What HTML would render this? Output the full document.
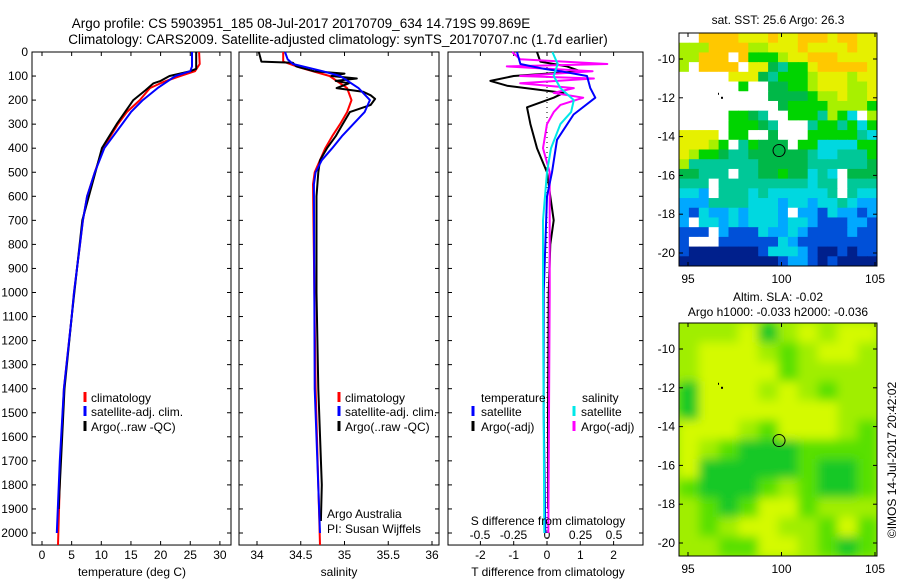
<!DOCTYPE html>
<html><head><meta charset="utf-8"><style>
html,body{margin:0;padding:0;background:#fff;}
svg{display:block;font-family:"Liberation Sans",sans-serif;}
</style></head><body>
<svg id="fig" width="900" height="580" viewBox="0 0 900 580" xmlns="http://www.w3.org/2000/svg">
<text x="301" y="28" font-size="13.5" text-anchor="middle">Argo profile: CS 5903951_185 08-Jul-2017 20170709_634 14.719S 99.869E</text>
<text x="338" y="44" font-size="13.5" text-anchor="middle">Climatology: CARS2009. Satellite-adjusted climatology: synTS_20170707.nc (1.7d earlier)</text>
<g id="plots"></g>
<text x="778" y="24" font-size="12" text-anchor="middle">sat. SST: 25.6 Argo: 26.3</text>
<text x="778" y="301" font-size="12" text-anchor="middle">Altim. SLA: -0.02</text>
<text x="778" y="316" font-size="12" text-anchor="middle">Argo h1000: -0.033 h2000: -0.036</text>
<text transform="translate(896,460) rotate(-90)" font-size="12" text-anchor="middle">©IMOS 14-Jul-2017 20:42:02</text>
</svg>
<script>
// ---------- data ----------
const tClimDepth=[0,50,80,100,125,150,200,250,300,400,500,600,700,800,900,1000,1100,1400,1700,2050];
const tClimVal=[26.5,26.6,25.8,23.3,20.4,18.2,16.5,14.3,12.8,10.3,8.9,7.6,6.9,6.4,5.9,5.4,5.0,3.7,3.1,2.7];
const tSatDepth=[0,60,80,100,150,200,250,300,400,500,600,700,800,900,1000,1100,1400,1700,2000];
const tSatVal=[25.3,25.3,25.0,22.5,19.5,17.0,15.0,13.5,10.5,8.9,7.6,6.9,6.4,5.9,5.4,5.0,3.7,3.0,2.5];
const tArgoDepth=[0,70,80,100,120,130,160,200,250,300,400,500,700,900,1100,1400,1700,1900];
const tArgoVal=[26.0,26.0,25.0,21.5,20.0,18.8,17.4,15.4,14.0,12.6,10.1,9.0,6.8,5.9,5.0,3.8,3.2,2.8];
const sClimDepth=[0,40,65,100,150,200,250,300,350,400,450,500,550,1400,2050];
const sClimVal=[34.30,34.30,34.49,34.83,35.03,35.08,35.03,34.95,34.86,34.78,34.72,34.66,34.64,34.67,34.72];
const sSatDepth=[0,30,50,80,100,150,200,250,300,350,400,450,500,550,1400,2000];
const sSatVal=[34.32,34.35,34.41,34.75,34.95,35.16,35.29,35.23,35.10,34.97,34.86,34.74,34.67,34.65,34.66,34.72];
const sArgoDepth=[0,40,45,60,80,90,100,110,120,130,150,165,180,195,220,250,300,350,400,450,500,600,1000,1400,1800,1950];
const sArgoVal=[34.02,34.05,34.41,34.45,34.65,35.00,34.85,35.14,34.90,35.05,34.91,35.21,35.30,35.35,35.30,35.06,34.98,34.90,34.80,34.72,34.70,34.68,34.68,34.70,34.74,34.73];
const dTSatDepth=[0,50,70,80,100,150,190,260,365,500,600,1000,1500,2000];
const dTSatVal=[-0.9,-0.8,-0.1,0.4,1.2,1.3,1.45,0.8,0.3,0.15,0.0,-0.1,-0.1,-0.05];
const dTArgoDepth=[0,40,60,80,100,120,140,170,190,230,300,400,500,600,700,800,1000,1500,1900];
const dTArgoVal=[-0.3,-0.2,0.6,1.0,-1.0,-1.7,-1.2,0.5,0.2,-0.6,-0.5,-0.3,0.0,0.1,0.2,0.1,0.05,0.03,0.03];
const dSArgoDepth=[0,30,50,60,80,100,110,130,150,170,190,220,250,300,400,500,1000,2000];
const dSArgoVal=[-0.26,-0.2,0.45,-0.3,0.34,-0.2,0.35,-0.2,0.2,0.05,0.27,0.1,0.05,0.0,-0.03,0.02,0.02,0.01];
const dSSatDepth=[0,50,100,150,200,250,300,400,500,700,1000,2000];
const dSSatVal=[0.04,0.08,0.05,0.1,0.2,0.18,0.1,0.03,0.0,-0.03,-0.03,-0.02];
const depthTicks=[0,100,200,300,400,500,600,700,800,900,1000,1100,1200,1300,1400,1500,1600,1700,1800,1900,2000];
const tempTicks=[0,5,10,15,20,25,30];
const salTicks=[34,34.5,35,35.5,36];
const dTTicks=[-2,-1,0,1,2];
const dSTicks=[-0.5,-0.25,0,0.25,0.5];
const sstRows=[
"wwooooyyyoyyoooyooyy","llloooollyyyoyyyyoyy","llooowoggglyyoooyyyy","lwoooowyyGtggyoooooy",
"wwwwwyyyGtggglyyylyy","wwwwwwgwwGGgglyyylly","wwwwwwwwwGGGGgllylly","wwwwwwwwwwGggggllllg",
"wwwwwggGtwwgggtlgcwl","wwwwwgggGtwwwtggtgcg","yyyywggwwGwwwgggggtc","yyylgwtgGGGwggccccgg",
"ylggGttGGGGGGtcctttg","ltttttttGGGGGttttttG","GGtttwttGGgGGctcwGGG","tttwtttttttttcttwttt",
"ccbwtttctcccccctwtcc","bbbttttcccbccbcctcbb","bBcbbcbcccbwbbBcbbBb","bwccbcbcccbccbBBBbbB",
"BBBwbBBBcbbcbBBBBbBB","BwwwBBBBBBcbBBBBBBBB","BnnnnnnnBcccbBnnBnBB","nnnnnnnnnnBbbBnBnnnn"];
const slaRows=["lllyGlylyy","lyyylglyyl","lyyyygllll","Gyyylylgll","Gyyyyyyyll","yyylgyyylg",
"ylgGGGgggg","yGGGGGgGGg","gGGGglgGGg","lgGgyyglll","lglyyllgyg","llggyylgGg"];
const floatLon=99.869, floatLat=-14.719;
const mapLonTicks=[95,100,105];
const mapLatTicks=[-10,-12,-14,-16,-18,-20];

// ---------- helpers ----------
const NS="http://www.w3.org/2000/svg";
const root=document.getElementById('plots');
function mk(tag,attrs,parent){const e=document.createElementNS(NS,tag);for(const k in attrs)e.setAttribute(k,attrs[k]);(parent||root).appendChild(e);return e;}
const yTop=52,pxPerM=0.2405;
const yD=d=>yTop+d*pxPerM;
const yBot=yD(2050);
function panel(x0,x1,name){
  const r=mk('rect',{x:x0,y:yTop,width:x1-x0,height:yBot-yTop,fill:'none',stroke:'#000','stroke-width':1});
  
  
}
function xTicks(vals,sx,x0,x1,labelY,fmt,name){
  vals.forEach(v=>{const x=sx(v);
    mk('line',{x1:x,x2:x,y1:yBot,y2:yBot-4,stroke:'#000'});
    mk('line',{x1:x,x2:x,y1:yTop,y2:yTop+4,stroke:'#000'});
    const t=mk('text',{x:x,y:labelY,'font-size':12,'text-anchor':'middle'});t.textContent=fmt?fmt(v):v;
    
    
  });
}
function yTickMarks(x0,x1){depthTicks.forEach(d=>{const y=yD(d);
  mk('line',{x1:x0,x2:x0+4,y1:y,y2:y,stroke:'#000'});mk('line',{x1:x1,x2:x1-4,y1:y,y2:y,stroke:'#000'});});}
function line(depths,vals,sx,color,name,w){
  const pts=depths.map((d,i)=>sx(vals[i]).toFixed(1)+','+yD(d).toFixed(1)).join(' ');
  const p=mk('polyline',{points:pts,fill:'none',stroke:color,'stroke-width':w||2,'stroke-linejoin':'round'});
  
  
}
function txt(x,y,s,name,anchor){const t=mk('text',{x:x,y:y,'font-size':12,'text-anchor':anchor||'start'});t.textContent=s;
  
  return t;}
function legTick(x,y,c){mk('line',{x1:x,x2:x,y1:y-10,y2:y,stroke:c,'stroke-width':3});}

// ---------- panel 1: temperature ----------
const sxT=v=>42+v*5.93;
panel(32,231,'temperature-panel');
yTickMarks(32,231);
depthTicks.forEach(d=>{txt(28,yD(d)+4,String(d),'depth-tick-label','end');});
xTicks(tempTicks,sxT,32,231,559,null,'temperature-tick-label');
line(tClimDepth,tClimVal,sxT,'#ff0000','temp-climatology-line');
line(tArgoDepth,tArgoVal,sxT,'#000','temp-argo-line');
line(tSatDepth,tSatVal,sxT,'#0000ff','temp-satellite-line');
txt(132,576,'temperature (deg C)','temperature-axis-title','middle');
legTick(85,402,'#ff0000');txt(91,402,'climatology','legend-climatology');
legTick(85,416,'#0000ff');txt(91,416,'satellite-adj. clim.','legend-satellite');
legTick(85,431,'#000');txt(91,431,'Argo(..raw -QC)','legend-argo');

// ---------- panel 2: salinity ----------
const sxS=v=>257+(v-34)*87.5;
panel(239,439,'salinity-panel');
yTickMarks(239,439);
xTicks(salTicks,sxS,239,439,559,null,'salinity-tick-label');
line(sClimDepth,sClimVal,sxS,'#ff0000','sal-climatology-line');
line(sArgoDepth,sArgoVal,sxS,'#000','sal-argo-line');
line(sSatDepth,sSatVal,sxS,'#0000ff','sal-satellite-line');
txt(339,576,'salinity','salinity-axis-title','middle');
legTick(339,402,'#ff0000');txt(345,402,'climatology','legend-climatology');
legTick(339,416,'#0000ff');txt(345,416,'satellite-adj. clim.','legend-satellite');
legTick(339,431,'#000');txt(345,431,'Argo(..raw -QC)','legend-argo');
txt(327,518,'Argo Australia','credit-argo-australia');
txt(327,533,'PI: Susan Wijffels','credit-pi');

// ---------- panel 3: differences ----------
const sxDT=v=>547+v*33.3;
const sxDS=v=>547+v*134;
panel(448,643,'difference-panel');
yTickMarks(448,643);
xTicks(dTTicks,sxDT,448,643,559,null,'t-diff-tick-label');
dSTicks.forEach(v=>{txt(sxDS(v),539,String(v),'s-diff-tick-label','middle');});
mk('line',{x1:547,x2:547,y1:yTop+10,y2:yBot,stroke:'#000','stroke-dasharray':'1 4'});
line(dTArgoDepth,dTArgoVal,sxDT,'#000','t-diff-argo-line');
line(dSArgoDepth,dSArgoVal,sxDS,'#ff00ff','s-diff-argo-line');
line(dTSatDepth,dTSatVal,sxDT,'#0000ff','t-diff-satellite-line');
line(dSSatDepth,dSSatVal,sxDS,'#00e8e8','s-diff-satellite-line');
txt(548,525,'S difference from climatology','s-diff-axis-title','middle');
txt(548,576,'T difference from climatology','t-diff-axis-title','middle');
txt(481,402,'temperature','legend-temperature-header');
txt(582,402,'salinity','legend-salinity-header');
legTick(473,416,'#0000ff');txt(481,416,'satellite','legend-t-satellite');
legTick(473,431,'#000');txt(481,431,'Argo(-adj)','legend-t-argo');
legTick(574,416,'#00e8e8');txt(581,416,'satellite','legend-s-satellite');
legTick(574,431,'#ff00ff');txt(581,431,'Argo(-adj)','legend-s-argo');

// ---------- maps ----------
const sstColors={w:'#ffffff',o:'#ffc800',y:'#e6f000',l:'#a8f000',g:'#00d400',G:'#00b848',t:'#00c898',c:'#00d8e0',b:'#00a8ff',B:'#0050d8',n:'#00208c'};
const slaColors={y:'#d4fa00',l:'#a0ee00',g:'#58e000',G:'#18c828'};
function map(top,rows,colors,name,blur){
  const L=679,R=877,B=top+233;
  const lonX=v=>688+(v-95)*18.7;
  const latY=v=>top+26+(-10-v)*19.4;
  const g=mk('g',{});
  
  
  const cid='clip'+top;
  const cp=mk('clipPath',{id:cid},g);mk('rect',{x:L,y:top,width:R-L,height:B-top},cp);
  const inner=mk('g',{'clip-path':'url(#'+cid+')'},g);
  let tgt=inner;
  if(blur){const f=mk('filter',{id:'bl'+top,x:'-10%',y:'-10%',width:'120%',height:'120%'},g);
    mk('feGaussianBlur',{stdDeviation:blur},f);
    mk('rect',{x:L,y:top,width:R-L,height:B-top,fill:colors.l},inner);
    tgt=mk('g',{filter:'url(#bl'+top+')'},inner);}
  const nr=rows.length,nc=rows[0].length,cw=(R-L)/nc,ch=(B-top)/nr;
  rows.forEach((row,r)=>{for(let c=0;c<nc;c++){
    mk('rect',{x:(L+c*cw).toFixed(2),y:(top+r*ch).toFixed(2),width:(cw+0.6).toFixed(2),height:(ch+0.6).toFixed(2),fill:colors[row[c]]||'#fff'},tgt);
  }});
  mk('rect',{x:L,y:top,width:R-L,height:B-top,fill:'none',stroke:'#000'},g);
  mapLonTicks.forEach(v=>{const x=lonX(v);mk('line',{x1:x,x2:x,y1:B,y2:B-4,stroke:'#000'},g);mk('line',{x1:x,x2:x,y1:top,y2:top+4,stroke:'#000'},g);
    const t=mk('text',{x:x,y:B+17,'font-size':12,'text-anchor':'middle'},g);t.textContent=v;});
  mapLatTicks.forEach(v=>{const y=latY(v);mk('line',{x1:L,x2:L+4,y1:y,y2:y,stroke:'#000'},g);mk('line',{x1:R,x2:R-4,y1:y,y2:y,stroke:'#000'},g);
    const t=mk('text',{x:L-4,y:y+4,'font-size':12,'text-anchor':'end'},g);t.textContent=v;});
  const m=mk('circle',{cx:lonX(floatLon),cy:latY(floatLat),r:6,fill:'none',stroke:'#000','stroke-width':1},g);
  
  
  mk('rect',{x:718,y:latY(-12)-5,width:1,height:2,fill:'#000'},g);
  mk('rect',{x:721,y:latY(-12)-1,width:2,height:2,fill:'#000'},g);
}
map(33,sstRows,sstColors,'sst-map',0);
map(323,slaRows,slaColors,'sla-map',5);
</script>
</body></html>
